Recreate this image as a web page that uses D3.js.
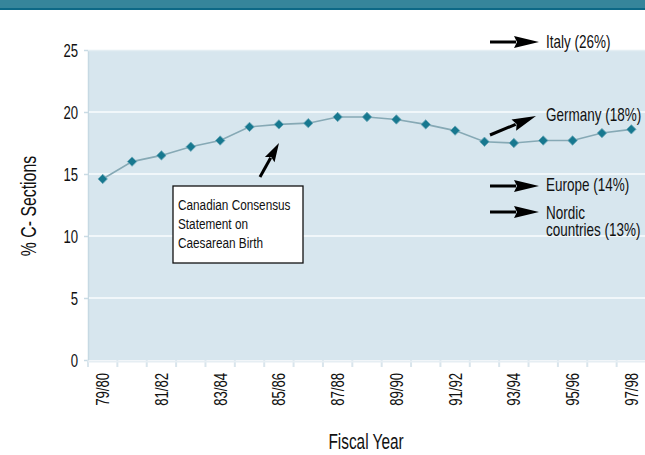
<!DOCTYPE html>
<html>
<head>
<meta charset="utf-8">
<script src="https://cdn.jsdelivr.net/npm/d3@7"></script>
<style>
  html, body { margin: 0; padding: 0; background: #fff; }
  svg { display: block; }
  text { font-family: "Liberation Sans", Arial, sans-serif; fill: #111; }
</style>
</head>
<body>
<svg id="chart" width="645" height="455"></svg>
<script>
// ---- data ----
const categories = ["79/80","80/81","81/82","82/83","83/84","84/85","85/86","86/87","87/88","88/89",
                    "89/90","90/91","91/92","92/93","93/94","94/95","95/96","96/97","97/98"];
const csectionRate = [14.6,16.0,16.5,17.2,17.7,18.8,19.0,19.1,19.6,19.6,
                      19.4,19.0,18.5,17.6,17.5,17.7,17.7,18.3,18.6];
const xTickLabels = ["79/80","81/82","83/84","85/86","87/88","89/90","91/92","93/94","95/96","97/98"];
const yTicks = [0,5,10,15,20,25];
const comparisonLabels = [["Italy (26%)"],["Germany (18%)"],["Europe (14%)"],["Nordic","countries (13%)"]];
const consensusNote = ["Canadian Consensus","Statement on","Caesarean Birth"];

// ---- layout ----
const svg = d3.select("#chart");
const plot = {left: 88, top: 50, bottom: 360, right: 646};
const K = 0.73; // horizontal condensation of the typeface

const x = d3.scaleBand().domain(categories).range([plot.left, plot.right]).padding(0);
const y = d3.scaleLinear().domain([0, 25]).range([plot.bottom, plot.top]);

// condensed text helper: lines drawn in a locally-scaled frame
function ntext(parent, px, py, lines, size, opts = {}) {
  const k = opts.k || K, rot = opts.rot || 0, lh = opts.lh || size;
  const t = parent.append("text")
    .attr("transform", `translate(${px},${py}) rotate(${rot}) scale(${k},1)`)
    .attr("font-size", size)
    .attr("text-anchor", opts.anchor || "start");
  [].concat(lines).forEach((s, j) => t.append("tspan").attr("x", 0).attr("dy", j === 0 ? (opts.dy || 0) : lh).text(s));
  return t;
}

// top banner stripes
const banner = svg.append("g");
banner.append("rect").attr("x",0).attr("y",0).attr("width",645).attr("height",10).attr("fill","#23768f");
[0.5,2.5,4.5,6.5].forEach(v => banner.append("rect").attr("x",0).attr("y",v).attr("width",645).attr("height",1).attr("fill","#4a93a8"));
banner.append("rect").attr("x",0).attr("y",8).attr("width",645).attr("height",2).attr("fill","#0d6886");

// plot background
svg.append("rect")
  .attr("x", plot.left).attr("y", plot.top)
  .attr("width", plot.right - plot.left).attr("height", plot.bottom - plot.top)
  .attr("fill", "#d7e6ee");
svg.append("line").attr("x1",plot.left+0.5).attr("x2",plot.left+0.5).attr("y1",plot.top).attr("y2",plot.bottom)
  .attr("stroke","#c6d9e3").attr("stroke-width",1.5);
svg.append("line").attr("x1",plot.left).attr("x2",plot.right).attr("y1",plot.top+0.5).attr("y2",plot.top+0.5)
  .attr("stroke","#e4eef3").attr("stroke-width",1.5);

// gridlines
svg.append("g").selectAll("line").data(yTicks.filter(d => d > 0 && d < 25)).join("line")
  .attr("x1", plot.left + 1).attr("x2", plot.right)
  .attr("y1", d => y(d)).attr("y2", d => y(d))
  .attr("stroke", "#f1f7fa").attr("stroke-width", 2);

// y axis (ticks via d3 axis, labels condensed)
const yAxis = d3.axisLeft(y).tickValues(yTicks).tickSize(4).tickFormat("");
const gy = svg.append("g").attr("transform", `translate(${plot.left},0)`).call(yAxis);
gy.select(".domain").remove();
gy.selectAll(".tick line").attr("stroke", "#c9dbe4").attr("stroke-width", 1.5);
gy.selectAll(".tick").each(function(d) {
  ntext(d3.select(this), -10, 0, String(d), 18, {anchor: "end", dy: "0.36em"});
});

// x axis ticks at band boundaries
const gxt = svg.append("g");
gxt.selectAll("line").data(categories.concat(["__end"])).join("line")
  .attr("x1", (d,i) => plot.left + i * x.bandwidth()).attr("x2", (d,i) => plot.left + i * x.bandwidth())
  .attr("y1", plot.bottom).attr("y2", plot.bottom + 7)
  .attr("stroke", "#d9e5ec").attr("stroke-width", 2);
svg.append("line").attr("x1",plot.left).attr("x2",plot.right).attr("y1",plot.bottom+1.5).attr("y2",plot.bottom+1.5)
  .attr("stroke","#e6eef3").attr("stroke-width",2);

// x labels (rotated, condensed)
const xAxis = d3.axisBottom(x).tickValues(xTickLabels).tickSize(0).tickFormat("");
const gx = svg.append("g").attr("transform", `translate(0,${plot.bottom})`).call(xAxis);
gx.select(".domain").remove();
gx.selectAll(".tick").each(function(d) {
  ntext(d3.select(this), 0, 13, d, 18, {anchor: "end", rot: -90, dy: "0.36em"});
});

// axis titles
ntext(svg, 36, 206, "% C- Sections", 22, {anchor: "middle", rot: -90, k: 0.72});
ntext(svg, 366, 449, "Fiscal Year", 22, {anchor: "middle", k: 0.7});

// line + markers
const cx = d => x(d) + x.bandwidth() / 2;
const line = d3.line().x((d,i) => cx(categories[i])).y(d => y(d));
svg.append("path").datum(csectionRate)
  .attr("d", line).attr("fill", "none").attr("stroke", "#86a9b5").attr("stroke-width", 1.6);
svg.append("g").selectAll("path").data(csectionRate).join("path")
  .attr("transform", (d,i) => `translate(${cx(categories[i])},${y(d)}) rotate(45)`)
  .attr("d", d3.symbol().type(d3.symbolSquare).size(44))
  .attr("fill", "#17788f").attr("stroke", "#6aa7b7").attr("stroke-width", 0.8);

// arrow helper
function arrow(x1, y1, x2, y2, headLen, headW, sw) {
  const a = Math.atan2(y2 - y1, x2 - x1);
  const bx = x2 - headLen * Math.cos(a), by = y2 - headLen * Math.sin(a);
  const px = -Math.sin(a) * headW, py = Math.cos(a) * headW;
  const g = svg.append("g");
  g.append("line").attr("x1", x1).attr("y1", y1).attr("x2", bx + 2*Math.cos(a)).attr("y2", by + 2*Math.sin(a))
    .attr("stroke", "#000").attr("stroke-width", sw);
  g.append("path").attr("d", `M${x2},${y2}L${bx+px},${by+py}L${bx+3*Math.cos(a)},${by+3*Math.sin(a)}L${bx-px},${by-py}Z`)
    .attr("fill", "#000");
}

// right-side comparison annotations
const annBaseline = [48, 121, 191, 219];
arrow(490, 42, 539, 42, 25, 6, 3);
arrow(490, 135, 536, 116, 24, 6, 3);
arrow(490, 186, 539, 186, 25, 6, 3);
arrow(490, 212, 539, 212, 25, 6, 3);
comparisonLabels.forEach((lines, k) => {
  ntext(svg, 546, annBaseline[k], lines, 18, {k: 0.75, lh: 17});
});

// consensus note
arrow(260, 177, 279, 143, 19, 5.5, 3);
svg.append("rect").attr("x", 173).attr("y", 186).attr("width", 130).attr("height", 77)
  .attr("fill", "#fff").attr("stroke", "#111").attr("stroke-width", 1.3);
ntext(svg, 178, 210, consensusNote, 15.5, {k: 0.76, lh: 19});
</script>
</body>
</html>
